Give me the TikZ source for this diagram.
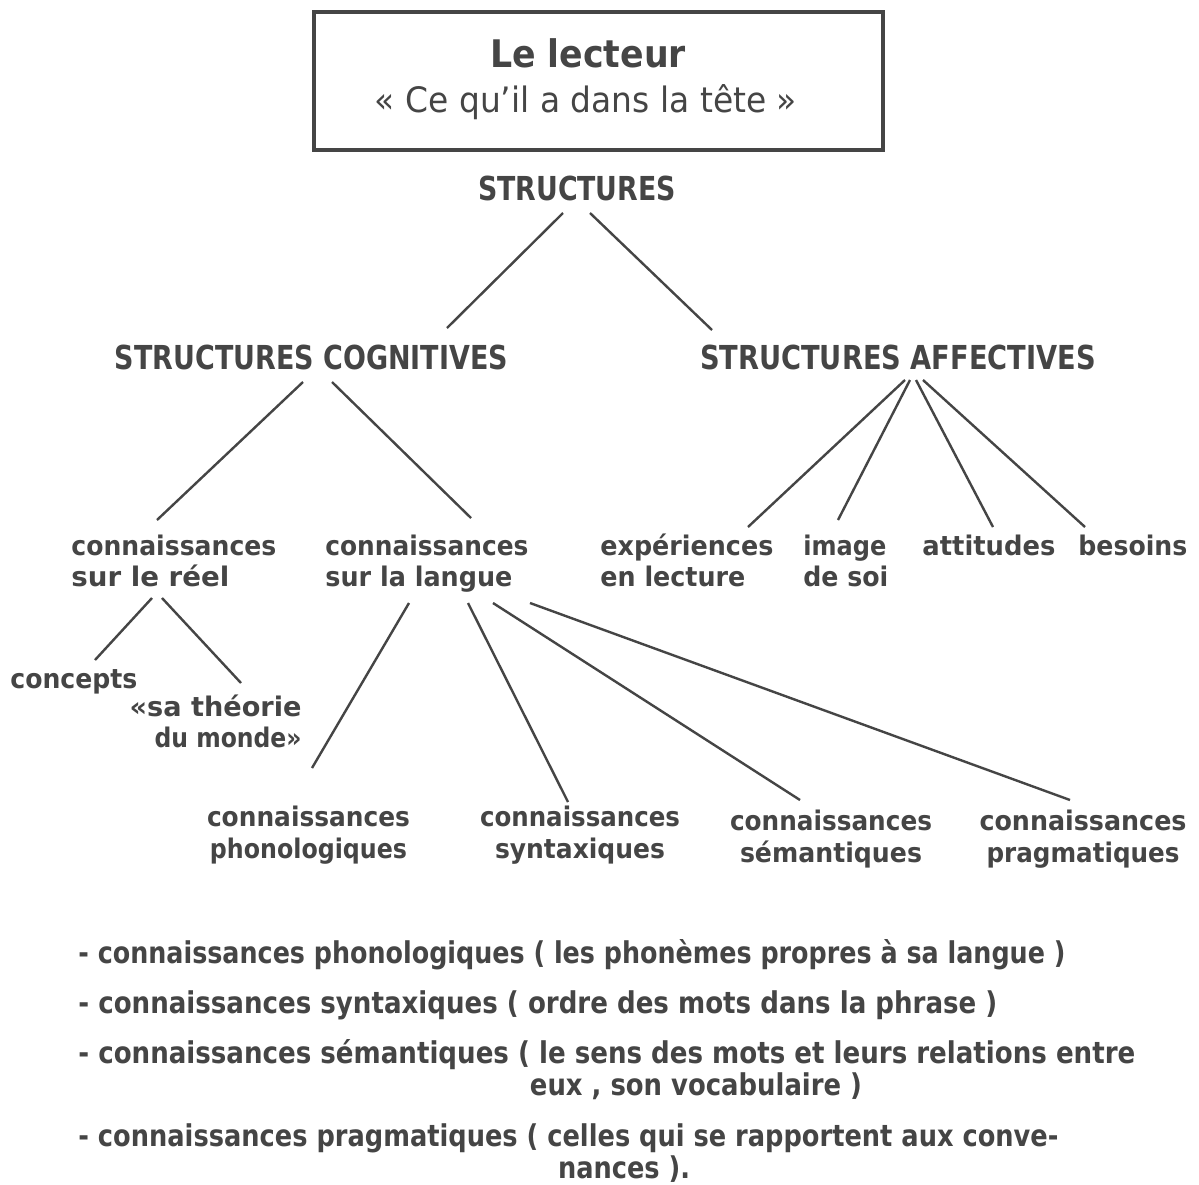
\documentclass[tikz,border=0pt]{standalone}
\usepackage{fontspec}
\setmainfont{DejaVu Sans}
\usepackage{graphicx}
\usetikzlibrary{calc}
\newlength\px
\setlength\px{0.5pt}
% set a piece of text to a given width (in px units), keeping its height
\newcommand\fitw[2]{\resizebox{#1\px}{\height}{#2}}
\definecolor{ink}{HTML}{454545}
\tikzset{
  lbl/.style={inner sep=0pt, text=ink, font=\fontsize{13.5}{15.5}\selectfont\bfseries},
  lblb/.style={inner sep=0pt, text=ink, font=\fontsize{13.5}{16}\selectfont\bfseries},
  head/.style={inner sep=0pt, text=ink, font=\fontsize{16.5}{18}\selectfont\bfseries},
  item/.style={inner sep=0pt, text=ink, font=\fontsize{15}{16}\selectfont\bfseries, anchor=base west},
  link/.style={draw=ink, line width=1.2pt},
  frame/.style={draw=ink, line width=2pt, inner sep=0pt, minimum width=569\px, minimum height=138\px}
}
\begin{document}
\begin{tikzpicture}[x=0.5pt, y=-0.5pt]
\useasboundingbox[fill=white] (0,0) rectangle (1199,1184);

% title box
\node[frame] (box) at (598.5,81) {};
\node[inner sep=0pt, text=ink, anchor=base, font=\fontsize{19}{22}\selectfont\bfseries] (lec1) at (588,67) {\fitw{196}{Le lecteur}};
\node[inner sep=0pt, text=ink, anchor=base, font=\fontsize{17.5}{20}\selectfont] (lec2) at (586,112) {\fitw{422}{« Ce qu'il a dans la tête »}};

% tree
\node[head, anchor=base] (st) at (577,200) {\fitw{198}{STRUCTURES}};
\node[head, anchor=base] (cog) at (311.5,369) {\fitw{393}{STRUCTURES COGNITIVES}};
\node[head, anchor=base] (aff) at (898,369) {\fitw{396}{STRUCTURES AFFECTIVES}};

\node[lbl, anchor=base west] (reel) at (71,555) {\begin{tabular}[t]{@{}l@{}}\fitw{205}{connaissances}\\\fitw{158}{sur le réel}\end{tabular}};
\node[lbl, anchor=base west] (langue) at (325,555) {\begin{tabular}[t]{@{}l@{}}\fitw{203}{connaissances}\\\fitw{187}{sur la langue}\end{tabular}};
\node[lbl, anchor=base west] (exper) at (600,555) {\begin{tabular}[t]{@{}l@{}}\fitw{173}{expériences}\\\fitw{145}{en lecture}\end{tabular}};
\node[lbl, anchor=base west] (image) at (803,555) {\begin{tabular}[t]{@{}l@{}}\fitw{83}{image}\\\fitw{85}{de soi}\end{tabular}};
\node[lbl, anchor=base west] (att) at (922,555) {\fitw{133}{attitudes}};
\node[lbl, anchor=base west] (bes) at (1078,555) {\fitw{109}{besoins}};

\node[lbl, anchor=base west] (concepts) at (10,688) {\fitw{127}{concepts}};
\node[lbl, anchor=base east] (theorie) at (302,716) {\begin{tabular}[t]{@{}r@{}}\fitw{172}{«sa théorie}\\\fitw{147}{du monde»}\end{tabular}};

\node[lblb, anchor=base] (phono) at (308.5,826) {\begin{tabular}[t]{@{}c@{}}\fitw{203}{connaissances}\\\fitw{197}{phonologiques}\end{tabular}};
\node[lblb, anchor=base] (synt) at (580,826) {\begin{tabular}[t]{@{}c@{}}\fitw{200}{connaissances}\\\fitw{170}{syntaxiques}\end{tabular}};
\node[lblb, anchor=base] (sem) at (831,830) {\begin{tabular}[t]{@{}c@{}}\fitw{202}{connaissances}\\\fitw{182}{sémantiques}\end{tabular}};
\node[lblb, anchor=base] (prag) at (1083,830) {\begin{tabular}[t]{@{}c@{}}\fitw{207}{connaissances}\\\fitw{193}{pragmatiques}\end{tabular}};

% connectors
\draw[link] ($(st.base)+(-14,13)$) -- ($(cog.base)+(135.5,-41)$);
\draw[link] ($(st.base)+(13,13)$) -- ($(aff.base)+(-186,-39)$);
\draw[link] ($(cog.base)+(-8.5,13)$) -- ($(reel.base west)+(86,-35)$);
\draw[link] ($(cog.base)+(20.5,13)$) -- ($(langue.base west)+(146,-37)$);
\draw[link] ($(aff.base)+(7,11)$) -- ($(exper.base west)+(148,-28)$);
\draw[link] ($(aff.base)+(12,11)$) -- ($(image.base west)+(35,-35)$);
\draw[link] ($(aff.base)+(18,11)$) -- ($(att.base west)+(71,-28)$);
\draw[link] ($(aff.base)+(25,11)$) -- ($(bes.base west)+(7,-28)$);
\draw[link] ($(reel.base west)+(81,43)$) -- ($(concepts.base west)+(85,-28)$);
\draw[link] ($(reel.base west)+(91,43)$) -- ($(theorie.base east)+(-61,-33)$);
\draw[link] ($(langue.base west)+(84,48)$) -- ($(phono.base)+(3.5,-58)$);
\draw[link] ($(langue.base west)+(143,48)$) -- ($(synt.base)+(-12,-24)$);
\draw[link] ($(langue.base west)+(168,48)$) -- ($(sem.base)+(-31,-30)$);
\draw[link] ($(langue.base west)+(205,48)$) -- ($(prag.base)+(-13,-30)$);

% glossary
\node[item] (g1) at (78,963) {\fitw{987}{- connaissances phonologiques ( les phonèmes propres à sa langue )}};
\node[item] (g2) at (78,1013) {\fitw{919}{- connaissances syntaxiques ( ordre des mots dans la phrase )}};
\node[item] (g3) at (78,1063) {\fitw{1057}{- connaissances sémantiques ( le sens des mots et leurs relations entre}};
\node[item, anchor=base] (g3b) at (696,1095) {\fitw{332}{eux , son vocabulaire )}};
\node[item] (g4) at (78,1146) {\fitw{980}{- connaissances pragmatiques ( celles qui se rapportent aux conve-}};
\node[item, anchor=base] (g4b) at (624,1178) {\fitw{132}{nances ).}};
\end{tikzpicture}
\end{document}
